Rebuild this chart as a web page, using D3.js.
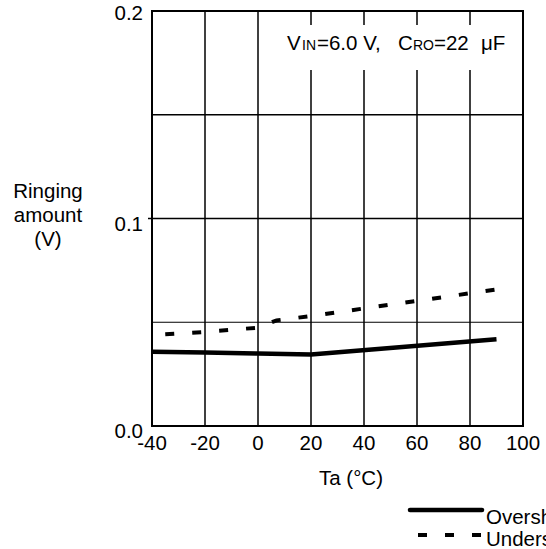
<!DOCTYPE html>
<html>
<head>
<meta charset="utf-8">
<script src="https://cdn.jsdelivr.net/npm/d3@7"></script>
<style>
  html, body { margin: 0; padding: 0; background: #fff; }
  svg { display: block; }
  text { font-family: "Liberation Sans", Arial, sans-serif; fill: #000; }
</style>
</head>
<body>
<svg id="chart" width="546" height="549"></svg>
<script>
// ---- data ----
const xTicks = [-40, -20, 0, 20, 40, 60, 80, 100];
const yTicks = [0.0, 0.1, 0.2];
const yGrid = [0.05, 0.1, 0.15];
const yTickLabels = ["0.0", "0.1", "0.2"];
const overshootT = [-40, -20, 0, 20, 90];
const overshootV = [0.0358, 0.0354, 0.0349, 0.0345, 0.0418];
const undershootT = [-35, -20, 0, 7, 20, 90];
const undershootV = [0.0442, 0.0453, 0.0474, 0.0509, 0.0530, 0.0658];
const seriesNames = ["Overshoot", "Undershoot"];
const yTitle = ["Ringing", "amount", "(V)"];
const xTitle = "Ta (\u00B0C)";
// annotation pieces: [text, isSubscript]
const annPieces = [["V", false], ["IN", true], ["=6.0 V,", false], ["C", false], ["RO", true], ["=22", false], ["\u03BCF", false]];

// ---- layout ----
const svg = d3.select("#chart");
const L = 152, R = 523, T = 11, B = 426;
const x = d3.scaleLinear().domain([-40, 100]).range([L, R]);
const y = d3.scaleLinear().domain([0, 0.2]).range([B, T]);
const FS = 20.5;

// grid lines
svg.append("g").selectAll("line.v").data(xTicks.slice(1, -1)).join("line")
  .attr("x1", d => x(d)).attr("x2", d => x(d))
  .attr("y1", T).attr("y2", B)
  .attr("stroke", "#000").attr("stroke-width", 1.5);
svg.append("g").selectAll("line.h").data(yGrid).join("line")
  .attr("x1", L).attr("x2", R)
  .attr("y1", d => y(d)).attr("y2", d => y(d))
  .attr("stroke", "#000").attr("stroke-width", d => d === 0.05 ? 1.1 : 1.6);

// annotation box (white) masking the grid
svg.append("rect").attr("x", 263).attr("y", 25).attr("width", 256).attr("height", 45)
  .attr("fill", "#fff");

// frame
svg.append("rect").attr("x", L).attr("y", T).attr("width", R - L).attr("height", B - T)
  .attr("fill", "none").attr("stroke", "#000").attr("stroke-width", 2);
// small outward tick at 0.1
svg.append("line").attr("x1", L - 4).attr("x2", L).attr("y1", y(0.1)).attr("y2", y(0.1))
  .attr("stroke", "#000").attr("stroke-width", 1.5);

// x tick labels
svg.append("g").selectAll("text").data(xTicks).join("text")
  .attr("x", d => x(d)).attr("y", B + 24)
  .attr("text-anchor", "middle").attr("font-size", FS)
  .text(d => d);

// y tick labels
svg.append("g").selectAll("text").data(yTicks).join("text")
  .attr("x", 143).attr("y", d => y(d) + (d === 0.2 ? 9 : 12))
  .attr("text-anchor", "end").attr("font-size", FS)
  .text((d, i) => yTickLabels[i]);

// y title
svg.append("g").selectAll("text").data(yTitle).join("text")
  .attr("x", 48).attr("y", (d, i) => 198 + i * 24)
  .attr("text-anchor", "middle").attr("font-size", FS)
  .text(d => d);

// x title
svg.append("text").attr("x", 351).attr("y", 485)
  .attr("text-anchor", "middle").attr("font-size", FS).text(xTitle);

// annotation
const annX = [287, 302, 317, 398, 413, 434, 481];
const ann = svg.append("text").attr("y", 50).attr("font-size", FS);
ann.selectAll("tspan").data(annPieces).join("tspan")
  .attr("x", (d, i) => annX[i])
  .attr("font-size", d => d[1] ? 14 : FS)
  .text(d => d[0]);

// series lines
const line = d3.line().x(d => x(d[0])).y(d => y(d[1]));
const overData = overshootT.map((t, i) => [t, overshootV[i]]);
const underData = undershootT.map((t, i) => [t, undershootV[i]]);
svg.append("path").datum(overData).attr("d", line)
  .attr("fill", "none").attr("stroke", "#000").attr("stroke-width", 4.5)
  .attr("stroke-linejoin", "round");
svg.append("path").datum(underData).attr("d", line)
  .attr("fill", "none").attr("stroke", "#000").attr("stroke-width", 4)
  .attr("stroke-dasharray", "9,18");

// legend
const legend = svg.append("g");
legend.append("line").attr("x1", 410).attr("x2", 482).attr("y1", 510).attr("y2", 510)
  .attr("stroke", "#000").attr("stroke-width", 4.5).attr("stroke-linecap", "round");
legend.append("text").attr("x", 486).attr("y", 524).attr("font-size", FS).text(seriesNames[0]);
legend.append("line").attr("x1", 418).attr("x2", 481).attr("y1", 535).attr("y2", 535)
  .attr("stroke", "#000").attr("stroke-width", 4).attr("stroke-dasharray", "9,18");
legend.append("text").attr("x", 486).attr("y", 546).attr("font-size", FS).text(seriesNames[1]);
</script>
</body>
</html>
